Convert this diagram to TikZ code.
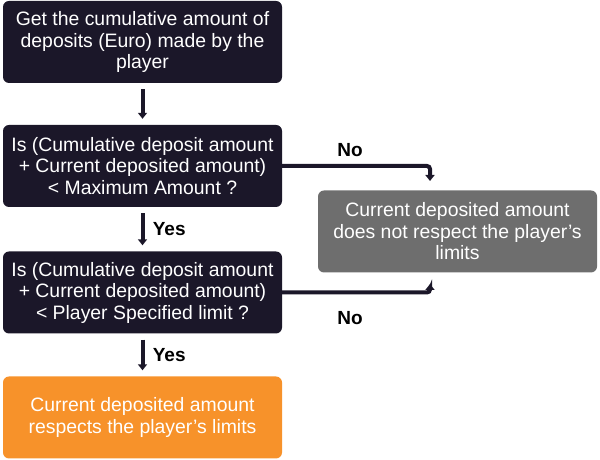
\documentclass[tikz,border=0pt]{standalone}
\usepackage{fontspec}
\setmainfont{Liberation Sans}
\usetikzlibrary{arrows.meta}
\definecolor{navy}{HTML}{1B1729}
\definecolor{greybox}{HTML}{6E6E6E}
\definecolor{orangebox}{HTML}{F7922A}
\tikzset{
  box/.style={rounded corners=6pt, minimum width=279pt, minimum height=82pt, align=center, text=white, font=\fontsize{19.4}{21.5}\selectfont, inner sep=0pt},
  darkbox/.style={box, fill=navy},
  flow/.style={line width=4pt, navy, -{Triangle[width=9pt,length=6pt]}},
  lbl/.style={font=\bfseries\fontsize{19}{21}\selectfont, text=black}
}
\begin{document}
\begin{tikzpicture}[x=1pt,y=1pt]
\useasboundingbox (0,0) rectangle (600,460);
\node[darkbox] (b1) at (142.5,418) {Get the cumulative amount of\\deposits (Euro) made by the\\player};
\node[darkbox] (b2) at (142.5,294) {Is (Cumulative deposit amount\\+ Current deposited amount)\\< Maximum Amount ?};
\node[darkbox] (b3) at (142.5,167.5) {Is (Cumulative deposit amount\\+ Current deposited amount)\\< Player Specified limit ?};
\node[box, fill=orangebox] (b4) at (142.5,42.5) {Current deposited amount\\respects the player’s limits};
\node[box, fill=greybox] (g) at (457.5,228.5) {Current deposited amount\\does not respect the player’s\\limits};
\coordinate (n1) at (430,279);
\coordinate (n2) at (430,176);
\draw[flow] ([yshift=-6pt]b1.south) -- ([yshift=6pt]b2.north);
\draw[flow] ([yshift=-6pt]b2.south) -- node[lbl, right=5pt] {Yes} ([yshift=6pt]b3.north);
\draw[flow] ([yshift=-6pt]b3.south) -- node[lbl, right=5pt] {Yes} ([yshift=6pt]b4.north);
\draw[flow, rounded corners=3pt] (b2.east) -- (n1 |- b2.east) -- (n1);
\draw[flow, rounded corners=3pt] (b3.east) -- (n2 |- b3.east) -- (n2);
\node[lbl] (no1) at (350,310) {No};
\node[lbl] (no2) at (350,142) {No};
\end{tikzpicture}
\end{document}
